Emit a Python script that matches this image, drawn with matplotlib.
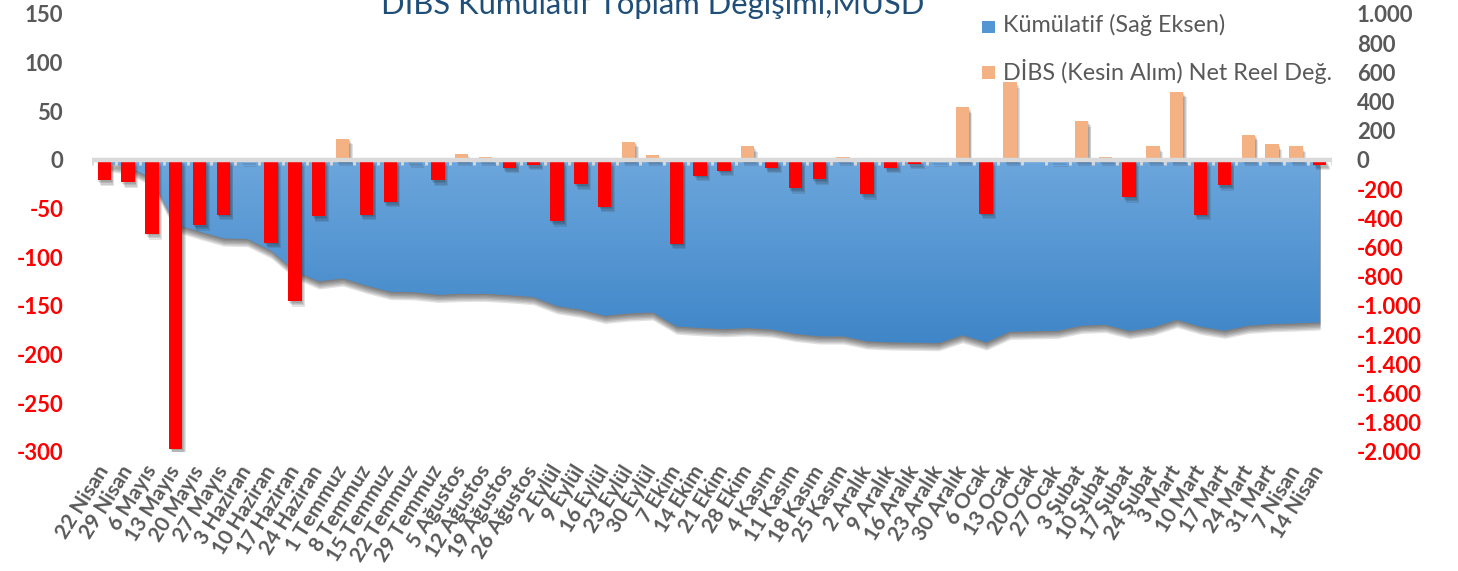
import numpy as np
import matplotlib
matplotlib.use("Agg")
import matplotlib.pyplot as plt
import matplotlib.patheffects as pe
from matplotlib.patches import Polygon, Rectangle
from matplotlib.colors import LinearSegmentedColormap

# weekly labels
dates = [
    "22 Nisan", "29 Nisan", "6 Mayıs", "13 Mayıs", "20 Mayıs", "27 Mayıs",
    "3 Haziran", "10 Haziran", "17 Haziran", "24 Haziran",
    "1 Temmuz", "8 Temmuz", "15 Temmuz", "22 Temmuz", "29 Temmuz",
    "5 Ağustos", "12 Ağustos", "19 Ağustos", "26 Ağustos",
    "2 Eylül", "9 Eylül", "16 Eylül", "23 Eylül", "30 Eylül",
    "7 Ekim", "14 Ekim", "21 Ekim", "28 Ekim",
    "4 Kasım", "11 Kasım", "18 Kasım", "25 Kasım",
    "2 Aralık", "9 Aralık", "16 Aralık", "23 Aralık", "30 Aralık",
    "6 Ocak", "13 Ocak", "20 Ocak", "27 Ocak",
    "3 Şubat", "10 Şubat", "17 Şubat", "24 Şubat",
    "3 Mart", "10 Mart", "17 Mart", "24 Mart", "31 Mart",
    "7 Nisan", "14 Nisan",
]

# DİBS net flow, MUSD (left axis)
net_flow = [
    -21, -23, -76, -297, -67, -56,
    -1, -85, -145, -58,
    22, -56, -43, -2, -21,
    6, 3, -8, -5,
    -63, -25, -48, 19, 5,
    -86, -16, -11, 14,
    -8, -29, -20, 3,
    -35, -8, -4, -1, 54,
    -55, 80, 0, -1,
    40, 3, -38, 14,
    70, -56, -26, 26, 16,
    14, -5,
]

# cumulative, MUSD (right axis)
cumulative = [
    -20, -45, -125, -440, -490, -536,
    -540, -620, -760, -830,
    -810, -860, -902, -905, -922,
    -916, -915, -925, -938,
    -1000, -1025, -1066, -1050, -1043,
    -1139, -1150, -1157, -1150,
    -1160, -1190, -1207, -1207,
    -1241, -1248, -1250, -1253, -1199,
    -1248, -1175, -1172, -1168,
    -1134, -1128, -1170, -1146,
    -1094, -1141, -1168, -1134, -1123,
    -1118, -1111,
]

left_ticks = list(range(-300, 151, 50))
right_ticks = list(range(-2000, 1001, 200))

GRAY = "#595959"
RED = "#ff0000"
PEACH = "#f4b183"

plt.rcParams["font.family"] = ["Lato", "DejaVu Sans"]

W, H = 1458, 571
fig = plt.figure(figsize=(W / 100, H / 100), dpi=100)
ax = fig.add_axes([92.3 / W, 1 - 452 / H, (1331.7 - 92.3) / W, (452 - 14) / H])
ax2 = ax.twinx()
ax.set_zorder(ax2.get_zorder() + 1)
ax.patch.set_visible(False)

x = np.arange(len(dates))

# cumulative area with vertical gradient and soft shadow
verts = [(x[0], 0)] + list(zip(x, cumulative)) + [(x[-1], 0)]
area_shadow = [pe.SimplePatchShadow(offset=(0.6, -k), shadow_rgbFace="#202020", alpha=0.13)
               for k in (1, 2, 3, 4, 5, 6)]
area = Polygon(verts, closed=True, facecolor="#4a8fd0", edgecolor="none",
               path_effects=area_shadow + [pe.Normal()], zorder=1)
ax2.add_patch(area)
grad = np.linspace(0, 1, 256).reshape(-1, 1)
cmap = LinearSegmentedColormap.from_list("blu", ["#6ca6dc", "#3f86c8"])
im = ax2.imshow(grad, aspect="auto", cmap=cmap, origin="upper",
                extent=(x[0], x[-1], min(cumulative), 0), zorder=2)
im.set_clip_path(area)

# weekly bars
colors = [RED if v < 0 else PEACH for v in net_flow]
bars = ax.bar(x, net_flow, width=0.56, color=colors, zorder=3)
bar_shadow = [pe.SimplePatchShadow(offset=(k * 0.6, -k), shadow_rgbFace="#202020", alpha=0.12)
              for k in (1, 2, 3, 4)]
for b in bars:
    b.set_path_effects(bar_shadow + [pe.Normal()])

# zero axis line with small category ticks
ax.axhline(0, color="#d9d9d9", lw=3.2, zorder=4)
ax.vlines(np.arange(-0.5, len(dates)), -5.5, 0, colors="#d9d9d9", lw=2, zorder=4)

ax.set_xlim(-0.5, len(dates) - 0.5)
ax.set_ylim(-300, 150)
ax2.set_ylim(-2000, 1000)

for a in (ax, ax2):
    for s in a.spines.values():
        s.set_visible(False)

ax.set_yticks(left_ticks, [str(v) for v in left_ticks], fontsize=16, fontweight="bold")
for lbl, v in zip(ax.get_yticklabels(), left_ticks):
    lbl.set_color(RED if v < 0 else GRAY)
ax.tick_params(axis="y", length=0, pad=21)

ax2.set_yticks(right_ticks, [f"{v:,}".replace(",", ".") for v in right_ticks],
               fontsize=16, fontweight="bold")
for lbl, v in zip(ax2.get_yticklabels(), right_ticks):
    lbl.set_color(RED if v < 0 else GRAY)
ax2.tick_params(axis="y", length=0, pad=18)

ax.set_xticks(x, dates, rotation=58, ha="right", va="center", rotation_mode="anchor",
              fontsize=15, fontweight="bold", color=GRAY)
ax.tick_params(axis="x", length=0, pad=11)

# title (partly above the figure edge, as in the source)
fig.text(653 / W, 1 - 14 / H, "DİBS Kümülatif Toplam Değişimi,MUSD", ha="center",
         va="baseline", fontsize=22.3, color="#1f4e79")

# legend
fig.add_artist(Rectangle((982 / W, 1 - 33 / H), 13 / W, 12 / H, transform=fig.transFigure,
                         facecolor="#5496d4", edgecolor="none"))
fig.add_artist(Rectangle((982 / W, 1 - 79 / H), 13 / W, 13 / H, transform=fig.transFigure,
                         facecolor=PEACH, edgecolor="none"))
fig.text(1003 / W, 1 - 25 / H, "Kümülatif (Sağ Eksen)", va="center", fontsize=16.8, color=GRAY)
fig.text(1003 / W, 1 - 71 / H, "DİBS (Kesin Alım) Net Reel Değ.", va="center",
         fontsize=16.8, color=GRAY)

fig.savefig("out.png", dpi=100)
